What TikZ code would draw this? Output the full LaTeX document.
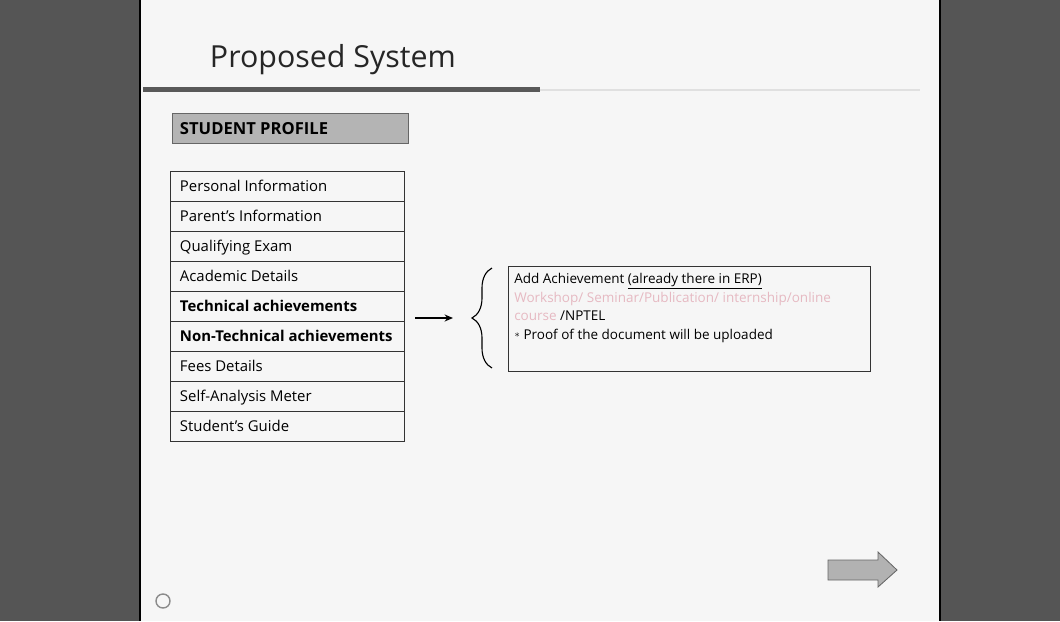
\documentclass[tikz,border=0pt]{standalone}
\usepackage{fontspec}
\setmainfont{Open Sans}
\usetikzlibrary{arrows.meta,decorations.pathreplacing}
\definecolor{slidebg}{HTML}{F6F6F6}
\definecolor{barcol}{HTML}{555555}
\definecolor{headfill}{HTML}{B4B4B4}
\definecolor{fadepink}{HTML}{E6B9C2}
\tikzset{
  rowbox/.style={draw=black!80, line width=0.6pt, minimum width=234*0.025cm,
    minimum height=30*0.025cm, anchor=north west, inner sep=0pt},
  rowtext/.style={anchor=base west, font=\fontsize{10.6}{13}\selectfont},
}
\begin{document}
\begin{tikzpicture}[x=0.025cm, y=-0.025cm]
  \useasboundingbox (0,0) rectangle (1060,621);
  % slide and side bars
  \fill[slidebg] (0,0) rectangle (1060,621);
  \fill[barcol] (0,0) rectangle (141,621);
  \fill[barcol] (939,0) rectangle (1060,621);
  \draw[black, line width=1.2pt] (140,0) -- (140,621);
  \draw[black, line width=1.2pt] (940,0) -- (940,621);
  % title and rule
  \node[anchor=west, font=\fontsize{21.6}{24}\selectfont, text=black!85] (title) at (205,60) {Proposed System};
  \fill[black!65] (143,87) rectangle (540,92);
  \draw[black!12, line width=0.8pt] (540,90) -- (920,90);
  % heading
  \node[draw=black!60, fill=headfill, minimum width=236*0.025cm, minimum height=30*0.025cm,
        anchor=north west, inner sep=0pt] (head) at (172,113) {};
  \node[anchor=west, font=\fontsize{11.8}{13}\selectfont\bfseries] (headtext) at (175,129) {STUDENT PROFILE};
  % list of rows
  \foreach\i/\t in {0/Personal Information, 1/Parent's Information, 2/Qualifying Exam,
                    3/Academic Details, 4/\textbf{Technical achievements},
                    5/\textbf{Non-Technical achievements}, 6/Fees Details,
                    7/Self-Analysis Meter, 8/Student's Guide}
    {\node[rowbox] (row\i) at (170, 171+30*\i) {};
     \node[rowtext] (rowtext\i) at (175, 191+30*\i) {\t};};
  % arrow and brace
  \coordinate (arrowstart) at (415,318);
  \coordinate (arrowend) at (453,318);
  \draw[-{Stealth[length=6pt,width=5pt]}, line width=1pt] (arrowstart) -- (arrowend);
  \coordinate (bracelow) at (492,368);
  \coordinate (bracehigh) at (492,268);
  \draw[line width=0.8pt, decorate, decoration={brace, amplitude=0.5cm}] (bracelow) -- (bracehigh);
  % achievement box
  \node[draw=black!80, line width=0.7pt, minimum width=362*0.025cm, minimum height=105*0.025cm,
        anchor=north west, inner sep=0pt] (achbox) at (508,266) {};
  \node[anchor=north west, align=left, inner sep=0pt, font=\fontsize{9.6}{13.3}\selectfont] (achtext) at (514,273)
    {Add Achievement \underline{(already there in ERP)}\\
     \textcolor{fadepink}{Workshop/ Seminar/Publication/ internship/online}\\
     \textcolor{fadepink}{course} /NPTEL\\
     \raisebox{0.3ex}{\scriptsize$\ast$} Proof of the document will be uploaded};
  % footer
  \node[draw=black!45, circle, minimum size=14*0.025cm, inner sep=0pt, line width=1pt] (gear) at (163,601) {};
  \draw[black!60, fill=black!30, line width=0.6pt]
    (828,560) -- (878,560) -- (878,552) -- (897,570) -- (878,587) -- (878,580) -- (828,580) -- cycle;
\end{tikzpicture}
\end{document}
